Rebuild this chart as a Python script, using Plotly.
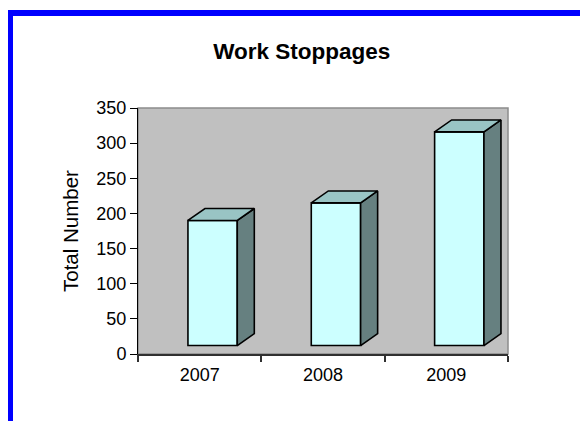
import plotly.graph_objects as go

# ---- data ----
years = ["2007", "2008", "2009"]
stoppages = [190, 215, 316]
y_ticks = [0, 50, 100, 150, 200, 250, 300, 350]

# ---- 3D look parameters (in axis units) ----
off = 0.105      # front-face shift right of category centre
hw = 0.2         # half width of front face
dx = 0.138       # depth shift in x
dy = 17          # depth shift in y
base = 12        # front-face floor

front_c = "#CCFFFF"
top_c = "#99C4C4"
side_c = "#668080"
edge = dict(color="black", width=1.6)

fig = go.Figure()
xs = list(range(len(years)))

# front faces
fig.add_trace(go.Bar(
    x=[i + off for i in xs], y=[v - base for v in stoppages], base=[base] * len(xs),
    width=[2 * hw] * len(xs), marker=dict(color=front_c, line=edge),
    hoverinfo="skip", showlegend=False))

for i, v in zip(xs, stoppages):
    xl, xr = i + off - hw, i + off + hw
    # side face
    fig.add_trace(go.Scatter(
        x=[xr, xr + dx, xr + dx, xr, xr], y=[base, base + dy, v + dy, v, base],
        mode="lines", fill="toself", fillcolor=side_c, line=edge,
        hoverinfo="skip", showlegend=False))
    # top face
    fig.add_trace(go.Scatter(
        x=[xl, xr, xr + dx, xl + dx, xl], y=[v, v, v + dy, v + dy, v],
        mode="lines", fill="toself", fillcolor=top_c, line=edge,
        hoverinfo="skip", showlegend=False))

font = dict(family="Liberation Sans, Arial, sans-serif", color="black")

W, H = 580, 413
fig.update_layout(
    width=W, height=H,
    margin=dict(l=130, r=80, t=100, b=67),
    paper_bgcolor="white", plot_bgcolor="#C0C0C0",
    barmode="overlay",
    font=font,
    title=dict(text="<b>Work Stoppages</b>", x=293.7 / W, xref="container", xanchor="center",
               y=1 - 42.7 / H, yref="container", yanchor="middle",
               font=dict(size=22.5, **font)),
    xaxis=dict(range=[-0.5, 2.5], tickmode="array", tickvals=xs, ticktext=years,
               ticks="", showgrid=False, zeroline=False,
               showline=True, linecolor="#303030", linewidth=1.5,
               tickfont=dict(size=18, **font), ticklabelstandoff=4,
               minor=dict(tickmode="array", tickvals=[-0.5, 0.5, 1.5, 2.5],
                          ticks="outside", ticklen=6, tickcolor="#303030", tickwidth=1.5,
                          showgrid=False),
               fixedrange=True),
    yaxis=dict(range=[0, 350], tickmode="array", tickvals=y_ticks,
               ticks="outside", ticklen=7, tickcolor="black", tickwidth=1,
               showgrid=False, zeroline=False,
               showline=True, linecolor="black", linewidth=1,
               tickfont=dict(size=18, **font), fixedrange=True),
    annotations=[dict(text="Total Number", textangle=-90, xref="paper", yref="paper",
                      x=(70 - 138) / 370, y=0.5, xanchor="center", yanchor="middle",
                      showarrow=False, font=dict(size=20.5, **font))],
    shapes=[
        # plot-area border (top / right in gray)
        dict(type="rect", xref="paper", yref="paper", x0=0, y0=0, x1=1, y1=1,
             line=dict(color="#8C8C8C", width=1.5), layer="below"),
        # blue page frame
        dict(type="rect", xref="paper", yref="paper",
             x0=(10 - 138) / 370, x1=(640 - 138) / 370,
             y0=(354 - 470) / 246, y1=(354 - 13) / 246,
             line=dict(color="#0000FF", width=6)),
    ],
)

fig.write_html("out.html")
